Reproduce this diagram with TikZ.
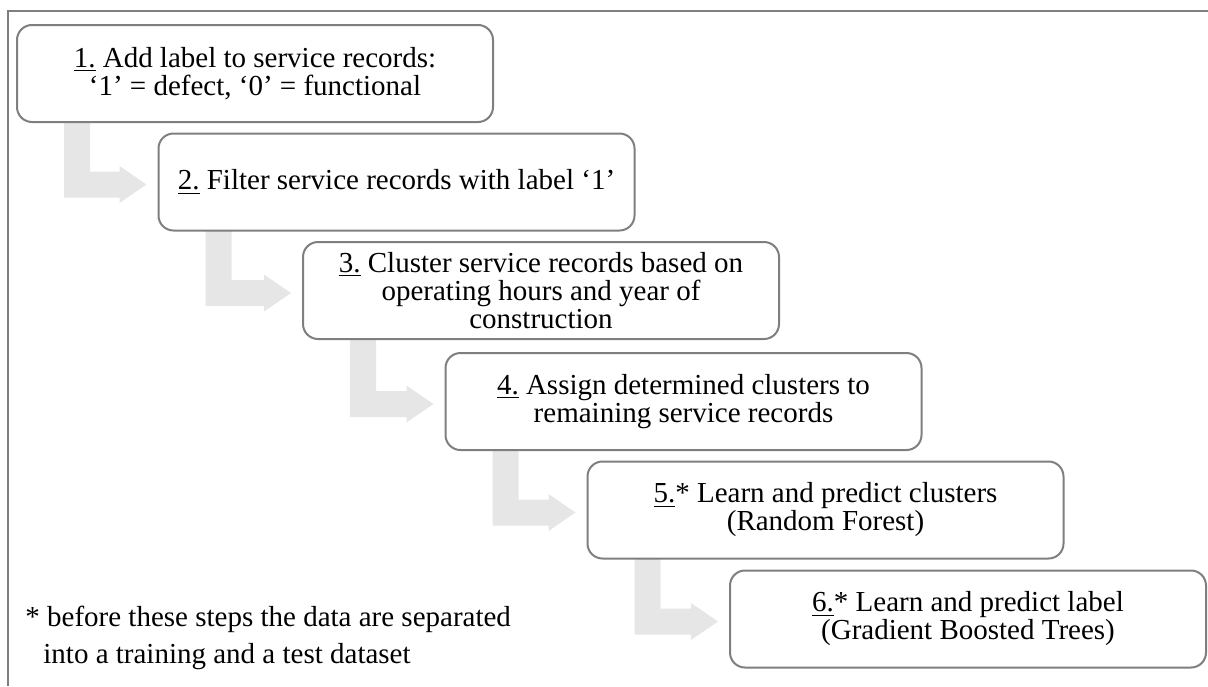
\documentclass[tikz,border=0pt]{standalone}
\usepackage{fontspec}
\setmainfont{Liberation Serif}
\usetikzlibrary{calc,backgrounds}
\definecolor{boxline}{RGB}{127,127,127}
\definecolor{flowgray}{RGB}{230,230,230}

\begin{document}
\begin{tikzpicture}[x=1pt,y=1pt,
  stepbox/.style={draw=boxline,line width=1pt,rounded corners=7.5pt,fill=white,
    minimum width=238pt,minimum height=48.5pt,inner sep=0pt,align=center,
    font=\fontsize{14.5}{14}\selectfont},
  flowarrow/.style={fill=flowgray}]
\useasboundingbox (0,0) rectangle (604,-343);
% frame, open to the right and below
\draw[boxline,line width=1pt](604,-5.25)--(4,-5.25)--(4,-343);

\node[stepbox](s1) at (127.5,-36.75){\underline{1.} Add label to service records:\\‘1’ = defect, ‘0’ = functional};
\node[stepbox](s2) at (198.25,-91){\underline{2.} Filter service records with label ‘1’};
\node[stepbox](s3) at (270.5,-145.25){\underline{3.} Cluster service records based on\\operating hours and year of\\construction};
\node[stepbox](s4) at (341.75,-200.75){\underline{4.} Assign determined clusters to\\remaining service records};
\node[stepbox](s5) at (412.75,-255){\underline{5.}* Learn and predict clusters\\(Random Forest)};
\node[stepbox](s6) at (484,-309.5){\underline{6.}* Learn and predict label\\(Gradient Boosted Trees)};

\node[anchor=north west,align=left,inner sep=0pt,font=\fontsize{14.5}{18.5}\selectfont](note) at (12.5,-303){* before these steps the data are separated\\\hspace{9pt}into a training and a test dataset};

% L-shaped arrows behind the boxes
\begin{scope}[on background layer]
\foreach \a/\b in {s1/s2,s2/s3,s3/s4,s4/s5,s5/s6}
  \fill[flowarrow] let \p1=(\a.south west), \p2=(\b.west) in
    (\x1+24pt,\y1+4pt)--(\x1+37pt,\y1+4pt)--(\x1+37pt,\y2+5.25pt)--(\x2-19pt,\y2+5.25pt)
    --(\x2-19pt,\y2+8pt)--(\x2-5.5pt,\y2-1.25pt)--(\x2-19pt,\y2-10.5pt)
    --(\x2-19pt,\y2-7.75pt)--(\x1+24pt,\y2-7.75pt)--cycle;
\end{scope}
\end{tikzpicture}
\end{document}
